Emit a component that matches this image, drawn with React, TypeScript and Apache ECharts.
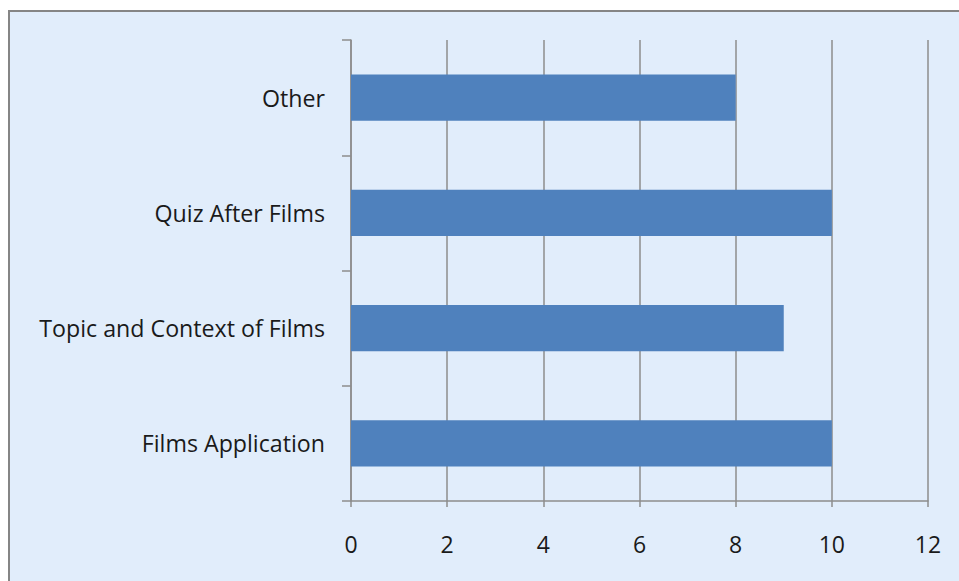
import React, { useEffect, useRef } from "react";
import * as echarts from "echarts";

const categories = ["Films Application", "Topic and Context of Films", "Quiz After Films", "Other"];
const values = [10, 9, 10, 8];
const xMin = 0;
const xMax = 12;
const xStep = 2;

export default function App() {
  const ref = useRef<HTMLDivElement>(null);
  useEffect(() => {
    const chart = echarts.init(ref.current!, null, { renderer: "svg" });
    chart.setOption({
      animation: false,
      backgroundColor: "#ffffff",
      graphic: [
        {
          type: "rect",
          z: -10,
          silent: true,
          shape: { x: 9, y: 11, width: 970, height: 600 },
          style: { fill: "#E1EDFB", stroke: "#858585", lineWidth: 2 },
        },
      ],
      grid: { left: 351, right: 31, top: 40, bottom: 80, containLabel: false },
      xAxis: {
        type: "value",
        min: xMin,
        max: xMax,
        interval: xStep,
        axisLine: { show: true, lineStyle: { color: "#8c8c8c", width: 1.5 } },
        axisTick: { show: true, length: 6, lineStyle: { color: "#8c8c8c", width: 1.5 } },
        splitLine: { show: true, lineStyle: { color: "#8c8c8c", width: 1.5 } },
        axisLabel: { margin: 31, fontSize: 23, color: "#1a1a1a", fontFamily: "Open Sans" },
      },
      yAxis: {
        type: "category",
        data: categories,
        axisLine: { show: true, lineStyle: { color: "#8c8c8c", width: 1.5 } },
        axisTick: { show: true, length: 9, inside: false, lineStyle: { color: "#8c8c8c", width: 1.5 } },
        splitLine: { show: false },
        axisLabel: { margin: 26, fontSize: 23.2, color: "#1a1a1a", fontFamily: "Open Sans" },
      },
      series: [
        {
          type: "bar",
          data: values,
          barWidth: "40%",
          itemStyle: { color: "#4F81BD" },
        },
      ],
    });
    return () => chart.dispose();
  }, []);
  return (
    <div
      ref={ref}
      style={{ position: "fixed", left: 0, top: 0, width: 959, height: 581 }}
    />
  );
}
